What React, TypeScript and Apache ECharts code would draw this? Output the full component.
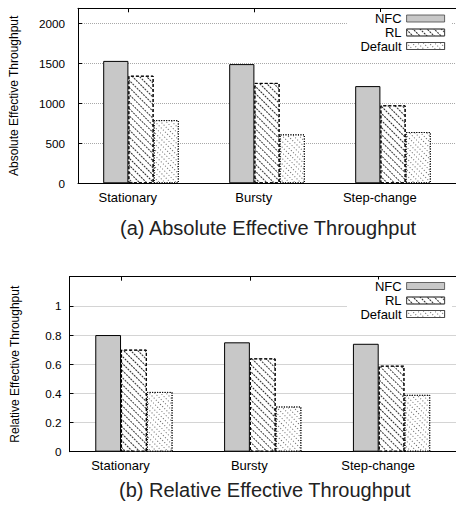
import React, { useEffect, useRef } from "react";
import * as echarts from "echarts";

const categories = ["Stationary", "Bursty", "Step-change"];
const seriesNames = ["NFC", "RL", "Default"];
const absNFC = [1530, 1490, 1215];
const absRL = [1345, 1255, 975];
const absDefault = [790, 612, 641];
const relNFC = [0.8, 0.75, 0.74];
const relRL = [0.7, 0.64, 0.59];
const relDefault = [0.41, 0.31, 0.39];
const captions = ["(a) Absolute Effective Throughput", "(b) Relative Effective Throughput"];
const yNames = ["Absolute Effective Throughput", "Relative Effective Throughput"];

const FONT = "'Liberation Sans', Arial, Helvetica, sans-serif";
const SLOTS = Array.from({ length: categories.length * 5 }, (_, i) => "s" + i);

const styles: any[] = [
  { color: "#c8c8c8", borderColor: "#000", borderWidth: 1 },
  {
    color: "#fff",
    borderColor: "#000",
    borderWidth: 1,
    borderType: [3, 2],
    decal: {
      symbol: "rect",
      symbolSize: 1,
      rotation: Math.PI / 4,
      dashArrayX: [2, 1],
      dashArrayY: [0.7, 3.3],
      color: "rgba(0,0,0,0.8)",
      backgroundColor: "#fff",
    },
  },
  {
    color: "#fff",
    borderColor: "#000",
    borderWidth: 1,
    borderType: [1, 1.5],
    decal: {
      symbol: "rect",
      symbolSize: 1,
      rotation: Math.PI / 4,
      dashArrayX: [1, 1.5],
      dashArrayY: [1, 2.2],
      color: "rgba(0,0,0,0.6)",
      backgroundColor: "#fff",
    },
  },
];

export default function App() {
  const ref = useRef<HTMLDivElement>(null);
  useEffect(() => {
    if (!ref.current) return;
    const chart = echarts.init(ref.current, null, { renderer: "svg" });
    const grids = [
      { left: 78, top: 8.3, width: 396.6, height: 175 },
      { left: 69.5, top: 276.7, width: 403.5, height: 175 },
    ];
    const barW = [396.6 / 15, 403.5 / 15];
    const xAxis: any[] = [];
    const yAxis: any[] = [];
    [0, 1].forEach((g) => {
      xAxis.push({
        type: "category",
        gridIndex: g,
        position: "bottom",
        data: categories,
        axisLine: { show: true, lineStyle: { color: "#000", width: 1 } },
        axisTick: { show: false },
        axisLabel: {
          margin: g === 0 ? 8 : 7,
          padding: [0, barW[g], 0, 0],
          fontSize: 13,
          color: "#000",
          fontFamily: FONT,
        },
        splitLine: { show: false },
      });
      xAxis.push({
        type: "category",
        gridIndex: g,
        position: "top",
        data: SLOTS,
        axisLine: { show: true, lineStyle: { color: "#000", width: 1 } },
        axisTick: {
          show: true,
          inside: true,
          length: 4,
          interval: (idx: number) => idx % 5 === 2,
          lineStyle: { color: "#000" },
        },
        axisLabel: { show: false },
        splitLine: { show: false },
      });
    });
    yAxis.push({
      type: "value",
      gridIndex: 0,
      min: 0,
      max: 2187.5,
      interval: 500,
      name: yNames[0],
      nameLocation: "middle",
      nameGap: 58,
      nameTextStyle: { fontSize: 12, color: "#000", fontFamily: FONT },
      axisLine: { show: true, lineStyle: { color: "#000", width: 1 } },
      axisTick: { show: true, inside: true, length: 4, lineStyle: { color: "#000" } },
      axisLabel: {
        margin: 13,
        fontSize: 11.7,
        color: "#000",
        fontFamily: FONT,
        formatter: (v: number) => (v % 500 === 0 ? String(v) : ""),
      },
      splitLine: { show: true, lineStyle: { color: "#a8a8a8", type: [1, 1], width: 1 } },
    });
    yAxis.push({
      type: "value",
      gridIndex: 1,
      min: 0,
      max: 1.2,
      interval: 0.2,
      name: yNames[1],
      nameLocation: "middle",
      nameGap: 49,
      nameTextStyle: { fontSize: 12, color: "#000", fontFamily: FONT },
      axisLine: { show: true, lineStyle: { color: "#000", width: 1 } },
      axisTick: { show: true, inside: true, length: 4, lineStyle: { color: "#000" } },
      axisLabel: {
        margin: 8,
        fontSize: 11.7,
        color: "#000",
        fontFamily: FONT,
        formatter: (v: number) => (v > 1.1 ? "" : String(Number(v.toFixed(1)))),
      },
      splitLine: { show: true, lineStyle: { color: "#a8a8a8", type: [1, 1], width: 1 } },
    });

    const data = [
      [absNFC, absRL, absDefault],
      [relNFC, relRL, relDefault],
    ];
    const series: any[] = [];
    [0, 1].forEach((g) => {
      seriesNames.forEach((name, i) => {
        series.push({
          type: "bar",
          name,
          xAxisIndex: g * 2,
          yAxisIndex: g,
          data: data[g][i],
          barWidth: "20%",
          barGap: "0%",
          itemStyle: styles[i],
          emphasis: { disabled: true },
        });
      });
    });

    const legendTops = [
      [12, 26, 39.5],
      [279.5, 294, 307.5],
    ];
    const padLeft = [28, 38, 14];
    const legend: any[] = [];
    [0, 1].forEach((g) => {
      seriesNames.forEach((name, i) => {
        legend.push({
          data: [name],
          right: 4,
          top: legendTops[g][i],
          orient: "horizontal",
          align: "right",
          icon: "rect",
          itemWidth: 38,
          itemHeight: 7,
          padding: [0, 7, 0, padLeft[i]],
          backgroundColor: "#fff",
          selectedMode: false,
          itemStyle: { borderWidth: 0.8, borderColor: "#444" },
          textStyle: { fontSize: 13, color: "#000", fontFamily: FONT },
        });
      });
    });

    const title = [
      { text: captions[0], left: 120, top: 218 },
      { text: captions[1], left: 119, top: 480 },
    ].map((t) => ({
      ...t,
      padding: 0,
      textStyle: { fontSize: 20, fontWeight: "normal", color: "#222", fontFamily: FONT },
    }));

    chart.setOption({
      animation: false,
      backgroundColor: "#fff",
      textStyle: { fontFamily: FONT },
      title,
      grid: grids,
      xAxis,
      yAxis,
      legend,
      series,
    });
    return () => chart.dispose();
  }, []);
  return (
    <div
      ref={ref}
      style={{ position: "absolute", left: 0, top: 0, width: 456, height: 510, overflow: "hidden" }}
    />
  );
}
